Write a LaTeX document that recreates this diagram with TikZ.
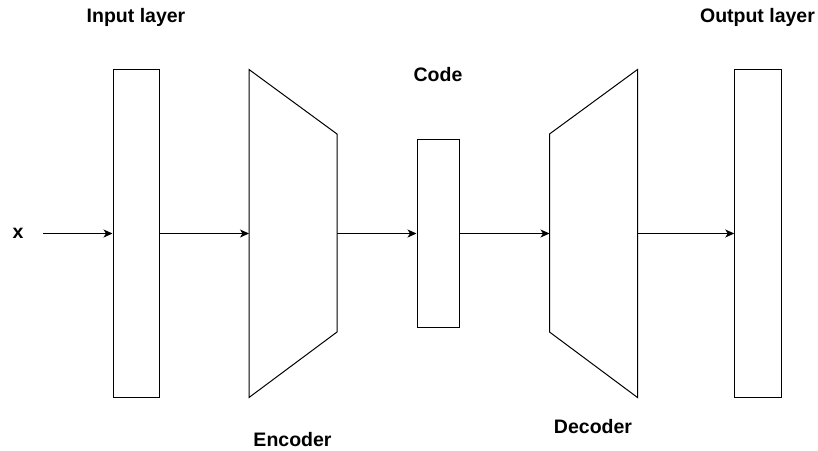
\documentclass[tikz,border=0pt]{standalone}
\usepackage{fontspec}
\setmainfont{Liberation Sans}
\usetikzlibrary{arrows.meta}
\tikzstyle{layer}=[draw, line width=1pt, inner sep=0, minimum width=46.5pt, minimum height=328pt]
\tikzstyle{lbl}=[font=\bfseries\fontsize{19.5}{22}\selectfont, anchor=base, inner sep=0]
\tikzstyle{conn}=[-{Stealth[length=9pt,width=8pt,inset=2.5pt]}, line width=1pt]

\begin{document}
\begin{tikzpicture}[x=1pt,y=-1pt]
    \useasboundingbox (0,0) rectangle (818,450);
    % layers
    \node[layer] (inp) at (136.25,233.5) {};
    \node[layer, minimum width=42pt, minimum height=188pt] (code) at (438,233.5) {};
    \node[layer] (out) at (758,233.5) {};
    % encoder / decoder
    \draw[line width=1pt] (249,69.5) -- (337,134) -- (337,332) -- (249,397.5) -- cycle;
    \draw[line width=1pt] (549.5,134) -- (637.5,69.5) -- (637.5,397.5) -- (549.5,332) -- cycle;
    \coordinate (enc-in) at (249,233.5);
    \coordinate (enc-out) at (337,233.5);
    \coordinate (dec-in) at (549.5,233.5);
    \coordinate (dec-out) at (637.5,233.5);
    % labels
    \node[lbl] (xin) at (18,238.5) {x};
    \coordinate (src) at (43,233.5);
    \node[lbl] (lin) at (136,22) {Input layer};
    \node[lbl] (lout) at (757.5,22) {Output layer};
    \node[lbl] (lcode) at (438,81) {Code};
    \node[lbl] (lenc) at (292.5,446) {Encoder};
    \node[lbl] (ldec) at (593,433) {Decoder};
    % connections
    \draw[conn] (src) -- (inp.west);
    \draw[conn] (inp.east) -- (enc-in);
    \draw[conn] (enc-out) -- (code.west);
    \draw[conn] (code.east) -- (dec-in);
    \draw[conn] (dec-out) -- (out.west);
\end{tikzpicture}
\end{document}
